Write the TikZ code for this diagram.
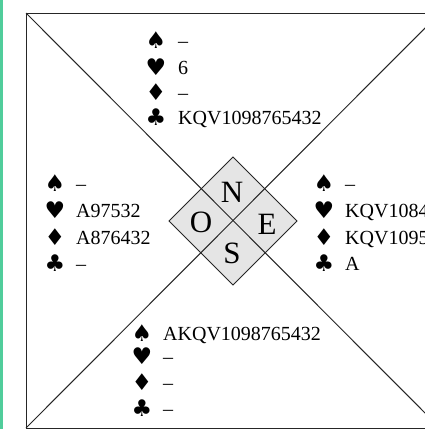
\documentclass[tikz,border=0pt]{standalone}
\usepackage{fontspec}
\setmainfont{Liberation Serif}
\newfontfamily\suitfont{DejaVu Sans}
\definecolor{scanedge}{RGB}{80,205,155}
\begin{document}
\begin{tikzpicture}[x=1pt,y=-1pt,
  hand/.style={font=\fontsize{20}{22}\selectfont, inner sep=0pt, anchor=base west},
  suit/.style={font=\suitfont\fontsize{23}{25}\selectfont, inner sep=0pt, anchor=base, yshift=-1pt},
  seat/.style={font=\fontsize{31}{33}\selectfont, inner sep=0pt},
  rule/.style={line width=1pt, draw=black!85}]
\useasboundingbox (0,0) rectangle (425,429);
\clip (0,0) rectangle (425,429);
\fill[white] (0,0) rectangle (425,429);
\fill[scanedge] (0,0) rectangle (3,429);
% frame and diagonals
\coordinate (tl) at (26,13);
\coordinate (tr) at (440,13);
\coordinate (bl) at (26,428);
\coordinate (br) at (440,428);
% diamond
\coordinate (dn) at (233,157);
\coordinate (de) at (297,221);
\coordinate (ds) at (233,285);
\coordinate (dw) at (169,221);
\fill[gray!20] (dn) -- (de) -- (ds) -- (dw) -- cycle;
\draw[rule] (tl) rectangle (br);
\draw[rule] (tl) -- (br);
\draw[rule] (bl) -- (tr);
\draw[rule] (dn) -- (de) -- (ds) -- (dw) -- cycle;
% seats
\node[seat] (N) at (232,192) {N};
\node[seat] (O) at (201,222) {O};
\node[seat] (E) at (267,224) {E};
\node[seat] (S) at (232,253) {S};
% North
\node[suit] (ns) at (156,47) {♠};
\node[hand] (nst) at (178,47) {–};
\node[suit] (nh) at (156,74) {♥};
\node[hand] (nht) at (178,74) {6};
\node[suit] (nd) at (156,99) {♦};
\node[hand] (ndt) at (178,99) {–};
\node[suit] (nc) at (156,124) {♣};
\node[hand] (nct) at (178,124) {KQV1098765432};
% West
\node[suit] (ws) at (55,190) {♠};
\node[hand] (wst) at (76,190) {–};
\node[suit] (wh) at (55,217) {♥};
\node[hand] (wht) at (76,217) {A97532};
\node[suit] (wd) at (55,244) {♦};
\node[hand] (wdt) at (76,244) {A876432};
\node[suit] (wc) at (55,270) {♣};
\node[hand] (wct) at (76,270) {–};
% East
\node[suit] (es) at (324,190) {♠};
\node[hand] (est) at (345,190) {–};
\node[suit] (eh) at (324,217) {♥};
\node[hand] (eht) at (345,217) {KQV1084};
\node[suit] (ed) at (324,244) {♦};
\node[hand] (edt) at (345,244) {KQV1095};
\node[suit] (ec) at (324,270) {♣};
\node[hand] (ect) at (345,270) {A};
% South
\node[suit] (ss) at (142,340) {♠};
\node[hand] (sst) at (163,340) {AKQV1098765432};
\node[suit] (sh) at (142,363) {♥};
\node[hand] (sht) at (163,363) {–};
\node[suit] (sd) at (142,389) {♦};
\node[hand] (sdt) at (163,389) {–};
\node[suit] (sc) at (142,415) {♣};
\node[hand] (sct) at (163,415) {–};
\end{tikzpicture}
\end{document}
